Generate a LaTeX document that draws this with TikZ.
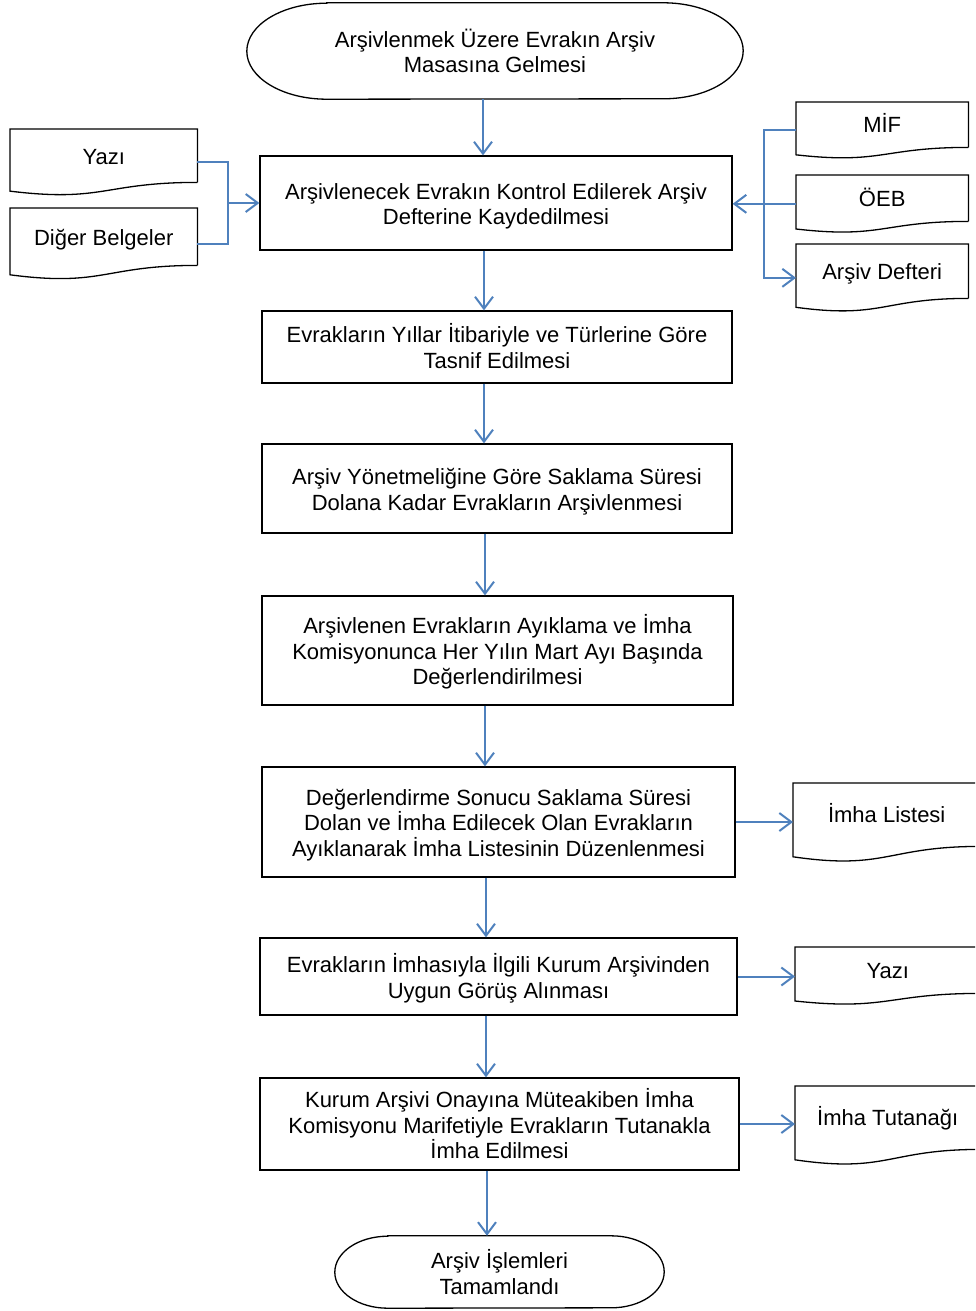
\documentclass[tikz,border=0pt]{standalone}
\usepackage{fontspec}
\setmainfont{Liberation Sans}
\usetikzlibrary{arrows.meta,calc}
\definecolor{conblue}{HTML}{4F81BD}
\newcommand\fs{\fontsize{22}{25.5}\selectfont}
\tikzset{
  box/.style={draw, line width=1.3pt, inner sep=0pt},
  term/.style={inner sep=0pt},
  docnode/.style={inner sep=0pt},
  txt/.style={inner sep=0pt, align=center, font=\fs},
  outline/.style={line width=1.3pt},
  conn/.style={draw=conblue, line width=2pt},
  arr/.style={conn, -{Straight Barb[length=12pt,width=18pt]}}
}
% name, cx, cy, w, h, text, text dy
\newcommand\mkbox[7]{%
  \node[box, minimum width=#4pt, minimum height=#5pt] (#1) at (#2,#3) {};
  \node[txt] (#1t) at ($(#1.center)+(0,#7)$) {#6};
}
\newcommand\mkterm[6]{%
  \node[term, minimum width=#4pt, minimum height=#5pt] (#1) at (#2,#3) {};
  \node[txt] (#1t) at (#1.center) {#6};
  \draw[outline] ($(#1.north west)+(0.161*#4,0)$) -- ($(#1.north east)+(-0.161*#4,0)$)
    arc[start angle=-90,end angle=90,x radius=0.161*#4,y radius=#5/2]
    -- ($(#1.south west)+(0.161*#4,0)$)
    arc[start angle=90,end angle=270,x radius=0.161*#4,y radius=#5/2] -- cycle;
}
% name, left, top, w, r, text, text dy
\newcommand\mkdoc[7]{%
  \node[docnode, anchor=north west, minimum width=#4pt, minimum height=#5pt] (#1) at (#2,#3) {};
  \node[txt] (#1t) at ($(#1.center)+(0,#7)$) {#6};
  \draw[outline] (#1.south east) -- (#1.north east) -- (#1.north west) -- ($(#1.south west)+(0,0.165*#5)$)
    .. controls ($(#1.south)+(0,0.381*#5)$) and (#1.south) .. (#1.south east);
  \coordinate (#1-w) at ($(#1.west)+(0,0.123*#5)$);
  \coordinate (#1-e) at ($(#1.east)+(0,0.123*#5)$);
}
\begin{document}
\begin{tikzpicture}[x=1pt,y=-1pt]
\useasboundingbox (0,0) rectangle (975,1311);
\clip (0,0) rectangle (975,1311);
\mkterm{start}{495}{51}{496}{96}{Arşivlenmek Üzere Evrakın Arşiv\\Masasına Gelmesi}
\mkbox{b1}{496}{203}{472}{94}{Arşivlenecek Evrakın Kontrol Edilerek Arşiv\\Defterine Kaydedilmesi}{3.5}
\mkdoc{yazi1}{10}{129}{187}{53}{Yazı}{1}
\mkdoc{diger}{10}{208}{187}{57}{Diğer Belgeler}{3}
\mkdoc{mif}{796}{102}{172}{45}{MİF}{-2}
\mkdoc{oeb}{796}{175}{172}{46}{ÖEB}{-1}
\mkdoc{defter}{796}{244}{172}{54}{Arşiv Defteri}{3}
\mkbox{b2}{497}{347}{470}{72}{Evrakların Yıllar İtibariyle ve Türlerine Göre\\Tasnif Edilmesi}{-1}
\mkbox{b3}{497}{488.5}{470}{89}{Arşiv Yönetmeliğine Göre Saklama Süresi\\Dolana Kadar Evrakların Arşivlenmesi}{3}
\mkbox{b4}{497.5}{650.5}{471}{109}{Arşivlenen Evrakların Ayıklama ve İmha\\Komisyonunca Her Yılın Mart Ayı Başında\\Değerlendirilmesi}{1.5}
\mkbox{b5}{498.5}{822}{473}{110}{Değerlendirme Sonucu Saklama Süresi\\Dolan ve İmha Edilecek Olan Evrakların\\Ayıklanarak İmha Listesinin Düzenlenmesi}{3}
\mkdoc{liste}{793}{783}{187}{63}{İmha Listesi}{-2}
\mkbox{b6}{498.5}{976.5}{477}{77}{Evrakların İmhasıyla İlgili Kurum Arşivinden\\Uygun Görüş Alınması}{2}
\mkdoc{yazi2}{795}{947}{185}{46}{Yazı}{1}
\mkbox{b7}{499.5}{1124}{479}{92}{Kurum Arşivi Onayına Müteakiben İmha\\Komisyonu Marifetiyle Evrakların Tutanakla\\İmha Edilmesi}{0}
\mkdoc{tutanak}{795}{1086}{185}{63}{İmha Tutanağı}{1}
\mkterm{end}{499.5}{1272}{329}{72}{Arşiv İşlemleri\\Tamamlandı}
% vertical flow
\draw[arr] ([xshift=-12pt]start.south) -- ([xshift=-12pt]start.south |- b1.north);
\draw[arr] ([xshift=-12pt]b1.south) -- ([xshift=-12pt]b1.south |- b2.north);
\draw[arr] ([xshift=-13pt]b2.south) -- ([xshift=-13pt]b2.south |- b3.north);
\draw[arr] ([xshift=-12pt]b3.south) -- ([xshift=-12pt]b3.south |- b4.north);
\draw[arr] ([xshift=-12.5pt]b4.south) -- ([xshift=-12.5pt]b4.south |- b5.north);
\draw[arr] ([xshift=-12.5pt]b5.south) -- ([xshift=-12.5pt]b5.south |- b6.north);
\draw[arr] ([xshift=-12.5pt]b6.south) -- ([xshift=-12.5pt]b6.south |- b7.north);
\draw[arr] ([xshift=-12.5pt]b7.south) -- ([xshift=-12.5pt]b7.south |- end.north);
% left inputs
\coordinate (jl) at ($(b1.west)+(-31,0)$);
\draw[conn] (yazi1-e) -| (jl);
\draw[conn] (diger-e) -| (jl);
\draw[arr] (jl) -- (b1.west);
% right inputs/outputs
\coordinate (jr) at ($(b1.east)+(31,0)$);
\draw[conn] (mif-w) -| (jr);
\draw[arr] (oeb-w) -- (oeb-w -| b1.east);
\draw[arr] (jr) |- (defter-w);
% outputs
\draw[arr] (b5.east) -- (b5.east -| liste.west);
\draw[arr] (b6.east) -- (b6.east -| yazi2.west);
\draw[arr] (b7.east) -- (b7.east -| tutanak.west);
\end{tikzpicture}
\end{document}
